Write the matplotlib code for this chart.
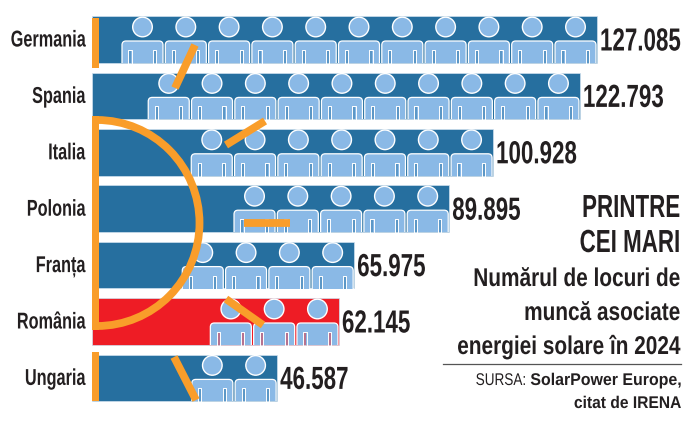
import matplotlib
matplotlib.use("Agg")
import matplotlib.pyplot as plt
from matplotlib.patches import Arc, Circle, FancyBboxPatch, Rectangle
from matplotlib.patheffects import AbstractPathEffect
from matplotlib.transforms import Affine2D, Bbox

# Donnees
tari = ["Germania", "Spania", "Italia", "Polonia", "Franța", "România", "Ungaria"]
locuri = [127085, 122793, 100928, 89895, 65975, 62145, 46587]
etichete = ["127.085", "122.793", "100.928", "89.895", "65.975", "62.145", "46.587"]
nr_persoane = [11, 10, 7, 5, 4, 3, 2]

ALBASTRU = "#266f9f"
BLEU = "#8ab9e6"
ROSU = "#ee1c25"
PORTOCALIU = "#f99d2a"
NEGRU = "#231f20"
FONT = ["Liberation Sans", "DejaVu Sans"]

W, H = 699, 424


class Etroit(AbstractPathEffect):
    # serre le texte en largeur (pas de police condensee installee)
    def __init__(self, sx, droite=False):
        super().__init__()
        self.sx = sx
        self.droite = droite

    def draw_path(self, renderer, gc, tpath, affine, rgbFace=None):
        pivot = tpath.get_extents().x1 if self.droite else 0
        t = Affine2D().translate(-pivot, 0).scale(self.sx, 1).translate(pivot, 0) + affine
        renderer.draw_path(gc, tpath, t, rgbFace)


fig = plt.figure(figsize=(W / 100, H / 100), dpi=100)

# axe principal : x en locuri de munca, y = rang de la tara
k = 505 / 127085
ax = fig.add_axes([0, 0, 1, 1])
ax.set_xlim(-92 / k, (W - 92) / k)
pas = 56.4
ax.set_ylim((H - 39.5) / pas, -39.5 / pas)
ax.axis("off")

culori = [ROSU if t == "România" else ALBASTRU for t in tari]
ax.barh(range(len(tari)), locuri, height=46.5 / pas, color=culori,
        edgecolor="#cfe0ee", linewidth=0.5, zorder=1)

# axe superpose en pixels pour les pictos et le logo
px = fig.add_axes([0, 0, 1, 1], facecolor="none")
px.set_xlim(0, W)
px.set_ylim(H, 0)
px.axis("off")


def persoana(cx, jos, fond):
    body = FancyBboxPatch((cx - 20.5, jos - 22), 41, 30, boxstyle="round,pad=0,rounding_size=4",
                          fc=BLEU, ec="white", lw=0.9, zorder=3)
    px.add_patch(body)
    # on coupe le bas du corps au pied de la barre
    body.set_clip_path(Rectangle((cx - 25, jos - 25), 50, 25, transform=px.transData))
    px.add_patch(Circle((cx, jos - 36), 9.8, fc=BLEU, ec="white", lw=1.0, zorder=3))
    for dx in (-12.5, 12):
        px.plot([cx + dx - 1.6, cx + dx - 1.6, cx + dx + 1.6, cx + dx + 1.6],
                [jos, jos - 13, jos - 13, jos], color="white", lw=0.7, zorder=4)
        px.add_patch(Rectangle((cx + dx - 1.4, jos - 12), 2.8, 12, fc=fond, alpha=0.45, ec="none", zorder=3))


def texte(x, y, s, fs, sx, poids="bold", droite=True):
    t = px.text(x, y, s, ha="right" if droite else "left", va="baseline", fontsize=fs,
                fontweight=poids, family=FONT, color=NEGRU)
    t.set_path_effects([Etroit(sx, droite)])
    return t


for i, (t, v, e, n) in enumerate(zip(tari, locuri, etichete, nr_persoane)):
    x_end, y_c = ax.transData.transform((v, i))
    y_c = H - y_c
    for j in range(n):
        persoana(x_end - 21.5 - j * 43.3, y_c + 23.5, culori[i])
    lbl = texte(85, y_c + 7, t, 16.5, 0.71)
    lbl.set_clip_on(True)
    lbl.set_clip_box(Bbox([[10, 0], [W, H]]))
    texte(x_end + 3, y_c + 11, e, 23, 0.70, droite=False)

# logo soleil
for y0, y1 in [(18, 68), (116, 330), (352, 401)]:
    px.add_patch(Rectangle((92, y0), 7, y1 - y0, fc=PORTOCALIU, ec="none", zorder=5))
px.add_patch(Arc((97, 223), 205, 206, theta1=-90, theta2=90, color=PORTOCALIU, lw=5.6, zorder=5))
raze = [((195, 45), (175, 88)), ((265, 121), (226, 145)), ((244, 223), (290, 223)),
        ((226, 299), (263, 325)), ((174, 357), (196, 400))]
for a, b in raze:
    px.plot([a[0], b[0]], [a[1], b[1]], color=PORTOCALIU, lw=5.6, solid_capstyle="butt", zorder=5)

# bloc de titre
texte(681, 217, "PRINTRE", 23, 0.70)
texte(681, 252, "CEI MARI", 23, 0.70)
texte(681, 286, "Numărul de locuri de", 18.5, 0.81)
texte(681, 320, "muncă asociate", 18.5, 0.81)
texte(681, 354, "energiei solare în 2024", 18.5, 0.81)
px.plot([443, 681], [364, 364], color="#555555", lw=0.9)
texte(681, 385, "SolarPower Europe,", 12.2, 0.94)
texte(526, 385, "SURSA:", 12.2, 0.80, poids="normal")
texte(681, 408, "citat de IRENA", 12.2, 0.92)

fig.savefig("out.png", dpi=100)
